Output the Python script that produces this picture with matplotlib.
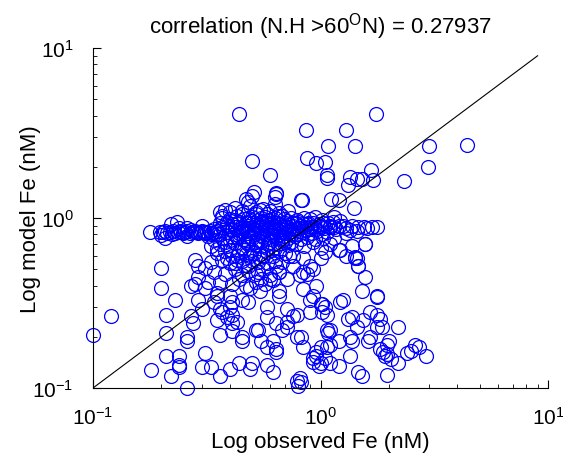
import numpy as np
import matplotlib.pyplot as plt

plt.rcParams['font.family'] = ['Liberation Sans', 'DejaVu Sans']
plt.rcParams['mathtext.default'] = 'regular'

# %% data: (observed Fe, model Fe) in nM
upper = [(0.44, 4.1), (1.75, 4.1), (0.86, 3.3), (1.29, 3.3), (1.08, 2.65), (1.42, 2.65),
         (3.0, 2.65), (4.4, 2.7), (0.5, 2.16), (0.87, 2.25), (0.96, 2.12), (1.05, 2.13),
         (2.97, 2.0), (1.07, 1.8), (1.07, 1.73), (0.6, 1.8), (1.35, 1.74), (1.45, 1.7),
         (1.67, 1.92), (1.7, 1.67), (1.32, 1.57), (1.52, 1.7), (2.33, 1.65), (0.51, 1.42),
         (0.64, 1.4), (0.63, 1.33), (0.63, 1.21), (0.47, 1.29), (0.82, 1.27), (1.11, 1.3),
         (1.2, 1.28), (1.41, 1.15), (0.54, 1.12), (0.36, 1.08), (0.37, 1.03), (0.5, 1.35),
         (0.64, 1.38), (0.83, 1.27), (0.48, 1.25)]

band_left = [(0.178, 0.83), (0.197, 0.83), (0.207, 0.84), (0.212, 0.82), (0.218, 0.83),
             (0.225, 0.84), (0.229, 0.82), (0.236, 0.83), (0.241, 0.84), (0.248, 0.82),
             (0.254, 0.83), (0.26, 0.84), (0.267, 0.82), (0.274, 0.83), (0.281, 0.84),
             (0.288, 0.82), (0.295, 0.83), (0.302, 0.84), (0.31, 0.82), (0.318, 0.83),
             (0.327, 0.84), (0.335, 0.82), (0.344, 0.83), (0.352, 0.84), (0.24, 0.87),
             (0.26, 0.87), (0.2, 0.79), (0.26, 0.78), (0.207, 0.76), (0.235, 0.95),
             (0.22, 0.92), (0.3, 0.9), (0.32, 0.78), (0.203, 0.83), (0.222, 0.81),
             (0.244, 0.83), (0.27, 0.85), (0.285, 0.83), (0.306, 0.83), (0.33, 0.81),
             (0.34, 0.86), (0.35, 0.8)]

band_right = [(1.38, 0.9), (1.46, 0.89), (1.55, 0.88), (1.6, 0.87), (1.68, 0.88), (1.77, 0.88),
              (1.25, 0.9), (1.3, 0.87), (1.2, 0.9), (1.15, 0.88), (1.1, 0.9), (1.35, 0.85),
              (1.45, 0.84), (1.57, 0.7), (1.38, 0.68), (1.2, 0.65), (1.3, 0.6), (1.45, 0.58),
              (1.42, 0.59), (1.46, 0.52), (1.22, 0.65), (1.1, 0.7), (1.0, 0.67), (1.05, 0.63),
              (0.93, 0.72), (1.15, 0.76), (1.3, 0.82), (1.15, 1.02), (1.22, 0.96)]

cluster = [(0.38, 1.12), (0.42, 1.15), (0.45, 1.1), (0.49, 1.18), (0.52, 1.08), (0.56, 1.13),
           (0.6, 1.1), (0.66, 1.07), (0.72, 1.1), (0.4, 1.08),
           (0.37, 1.0), (0.4, 0.98), (0.43, 1.03), (0.46, 0.99), (0.5, 1.02), (0.53, 0.97),
           (0.57, 1.01), (0.61, 0.98), (0.65, 1.03), (0.69, 0.99), (0.74, 1.0), (0.79, 0.97),
           (0.85, 1.0), (0.9, 0.98), (0.95, 1.01), (1.02, 0.97),
           (0.36, 0.93), (0.39, 0.95), (0.41, 0.92), (0.44, 0.95), (0.47, 0.93), (0.5, 0.94),
           (0.52, 0.92), (0.55, 0.95), (0.58, 0.93), (0.62, 0.95), (0.66, 0.92), (0.7, 0.94),
           (0.75, 0.93), (0.8, 0.95), (0.84, 0.92), (0.88, 0.94), (0.93, 0.93), (0.98, 0.92),
           (1.03, 0.94), (1.08, 0.93), (1.14, 0.95),
           (0.37, 0.88), (0.4, 0.86), (0.42, 0.89), (0.45, 0.87), (0.48, 0.9), (0.51, 0.86),
           (0.54, 0.88), (0.57, 0.9), (0.6, 0.87), (0.63, 0.89), (0.67, 0.86), (0.71, 0.88),
           (0.76, 0.9), (0.8, 0.87), (0.85, 0.89), (0.9, 0.86), (0.94, 0.88), (0.99, 0.9),
           (1.04, 0.87), (1.1, 0.88), (1.17, 0.86),
           (0.36, 0.81), (0.39, 0.83), (0.42, 0.8), (0.45, 0.84), (0.48, 0.82), (0.51, 0.8),
           (0.55, 0.83), (0.58, 0.81), (0.62, 0.84), (0.66, 0.8), (0.7, 0.82), (0.74, 0.84),
           (0.78, 0.81), (0.83, 0.83), (0.88, 0.8), (0.92, 0.82), (0.97, 0.84), (1.02, 0.81),
           (1.07, 0.83),
           (0.37, 0.76), (0.4, 0.74), (0.43, 0.77), (0.46, 0.75), (0.49, 0.78), (0.53, 0.74),
           (0.56, 0.77), (0.6, 0.75), (0.64, 0.78), (0.68, 0.74), (0.72, 0.76), (0.77, 0.78),
           (0.82, 0.75), (0.87, 0.77), (0.95, 0.75), (1.03, 0.76),
           (0.36, 0.7), (0.39, 0.68), (0.42, 0.71), (0.45, 0.67), (0.48, 0.7), (0.52, 0.72),
           (0.55, 0.68), (0.59, 0.7), (0.63, 0.67), (0.67, 0.71), (0.72, 0.69), (0.78, 0.7),
           (0.85, 0.68),
           (0.35, 0.62), (0.38, 0.64), (0.41, 0.6), (0.44, 0.63), (0.47, 0.61), (0.5, 0.65),
           (0.54, 0.61), (0.58, 0.63), (0.62, 0.6), (0.66, 0.64), (0.7, 0.62), (0.76, 0.6),
           (0.33, 0.55), (0.37, 0.57), (0.4, 0.54), (0.43, 0.57), (0.46, 0.53), (0.5, 0.56),
           (0.54, 0.58), (0.58, 0.54), (0.63, 0.56), (0.68, 0.55),
           (0.34, 0.48), (0.38, 0.47), (0.42, 0.5), (0.45, 0.46), (0.48, 0.49), (0.52, 0.47),
           (0.56, 0.5), (0.6, 0.46), (0.66, 0.48),
           (0.36, 0.42), (0.41, 0.41), (0.44, 0.44), (0.47, 0.4), (0.52, 0.42), (0.57, 0.41),
           (0.62, 0.43)]

# the solid core of the cluster, where circles sit on top of each other
core = [(0.39, 0.9), (0.41, 0.85), (0.43, 0.93), (0.44, 0.82), (0.46, 0.89), (0.47, 0.84),
        (0.49, 0.96), (0.5, 0.88), (0.51, 0.83), (0.53, 0.9), (0.54, 0.85), (0.55, 0.79),
        (0.56, 0.92), (0.57, 0.86), (0.59, 0.97), (0.6, 0.83), (0.61, 0.9), (0.62, 0.79),
        (0.64, 0.86), (0.65, 0.94), (0.67, 0.83), (0.68, 0.89), (0.69, 0.78), (0.71, 0.96),
        (0.72, 0.85), (0.73, 0.91), (0.75, 0.8), (0.77, 0.86), (0.78, 0.93), (0.81, 0.84),
        (0.82, 0.9), (0.86, 0.85), (0.87, 0.92), (0.91, 0.89), (0.96, 0.86), (1.0, 0.88),
        (0.42, 0.97), (0.45, 1.05), (0.48, 1.0), (0.52, 1.05), (0.55, 1.0), (0.58, 1.06),
        (0.63, 1.0), (0.68, 1.03), (0.44, 0.78), (0.47, 0.72), (0.5, 0.76), (0.52, 0.69),
        (0.55, 0.73), (0.58, 0.67), (0.6, 0.72), (0.61, 0.65), (0.65, 0.7), (0.67, 0.76),
        (0.7, 0.72), (0.74, 0.72), (0.4, 0.65), (0.43, 0.6), (0.46, 0.65), (0.49, 0.6),
        (0.51, 0.62), (0.53, 0.55), (0.56, 0.6), (0.39, 0.58), (0.42, 0.54), (0.45, 0.56),
        (0.48, 0.52), (0.35, 0.66), (0.38, 0.72), (0.41, 0.77), (0.34, 0.74), (0.33, 0.68)]

lower = [(0.1, 0.205), (0.12, 0.265), (0.2, 0.51), (0.2, 0.39), (0.23, 0.33), (0.21, 0.27),
         (0.21, 0.21), (0.26, 0.19), (0.26, 0.2), (0.21, 0.154), (0.18, 0.128), (0.22, 0.118),
         (0.24, 0.137), (0.26, 0.1), (0.31, 0.16), (0.3, 0.133), (0.33, 0.133), (0.36, 0.118),
         (0.4, 0.13), (0.44, 0.14), (0.49, 0.13), (0.5, 0.14), (0.58, 0.137), (0.62, 0.125),
         (0.79, 0.11), (0.81, 0.115), (0.8, 0.103), (0.82, 0.108), (0.24, 0.154),
         (0.24, 0.133), (0.27, 0.265), (0.275, 0.24), (0.28, 0.57), (0.29, 0.52), (0.29, 0.45),
         (0.28, 0.41), (0.27, 0.4), (0.29, 0.33), (0.31, 0.39), (0.32, 0.42), (0.31, 0.51),
         (0.3, 0.29), (0.34, 0.32), (0.36, 0.29), (0.37, 0.28), (0.39, 0.26), (0.41, 0.27),
         (0.43, 0.245), (0.45, 0.2), (0.41, 0.215), (0.36, 0.205), (0.35, 0.25), (0.35, 0.36),
         (0.4, 0.35), (0.41, 0.32), (0.48, 0.32), (0.49, 0.39), (0.54, 0.37), (0.55, 0.44),
         (0.58, 0.3), (0.52, 0.22), (0.55, 0.19), (0.58, 0.175), (0.64, 0.163), (0.68, 0.22),
         (0.71, 0.245), (0.76, 0.265), (0.82, 0.2), (0.9, 0.28), (0.93, 0.35), (0.96, 0.154),
         (1.0, 0.14), (0.93, 0.143), (0.87, 0.47), (0.84, 0.48), (0.71, 0.44), (0.66, 0.37),
         (0.76, 0.52), (0.9, 0.52), (1.02, 0.31), (1.07, 0.22), (1.07, 0.175),
         (0.35, 0.35), (0.4, 0.3), (0.45, 0.33), (0.53, 0.22), (0.58, 0.26), (0.64, 0.24),
         (0.71, 0.23), (0.79, 0.2), (0.84, 0.175), (0.96, 0.163), (0.62, 0.19), (0.64, 0.17),
         (0.45, 0.19), (0.41, 0.24), (0.81, 0.46), (0.84, 0.38), (0.96, 0.4), (1.01, 0.31),
         (0.9, 0.33), (0.79, 0.27), (0.71, 0.29), (0.66, 0.35), (0.6, 0.44), (0.53, 0.48),
         (0.66, 0.48), (0.93, 0.5), (1.0, 0.58), (0.84, 0.58), (0.73, 0.6), (0.64, 0.52)]

lower_right = [(1.57, 0.7), (1.42, 0.58), (1.46, 0.52), (1.57, 0.45), (1.52, 0.37), (1.77, 0.35),
               (1.78, 0.345), (1.22, 0.32), (1.25, 0.33), (1.05, 0.3), (1.02, 0.28), (1.07, 0.27),
               (1.32, 0.255), (1.38, 0.26), (1.65, 0.28), (1.77, 0.27), (1.83, 0.255), (1.54, 0.25),
               (1.45, 0.23), (1.77, 0.23), (1.86, 0.23), (2.2, 0.23), (1.1, 0.22), (1.08, 0.21),
               (1.2, 0.19), (1.1, 0.18), (1.0, 0.175), (1.35, 0.2), (1.38, 0.19), (1.62, 0.19),
               (1.65, 0.2), (1.83, 0.17), (1.97, 0.18), (2.0, 0.19), (1.88, 0.163), (1.92, 0.154),
               (1.97, 0.158), (2.2, 0.14), (2.05, 0.148), (2.4, 0.16), (2.5, 0.165), (2.6, 0.18),
               (2.7, 0.175), (2.9, 0.154), (1.35, 0.154), (1.2, 0.135), (1.46, 0.125),
               (1.52, 0.117), (1.97, 0.12), (0.98, 0.135), (0.93, 0.15), (1.05, 0.15), (1.1, 0.14)]

diag_x = [0.1, 9.0]

groups = [upper, band_left, band_right, cluster, core, lower, lower_right]
obs = np.array([p[0] for g in groups for p in g])
mod = np.array([p[1] for g in groups for p in g])

# %% plot
fig = plt.figure(figsize=(5.63, 4.6), dpi=100)
ax = fig.add_axes([93/563, 71/460, 455/563, 340/460])

ax.plot(obs, mod, 'o', mfc='none', mec='b', mew=0.9, ms=10, clip_on=False)
ax.plot(diag_x, diag_x, 'k-', lw=0.8)

ax.set_xscale('log')
ax.set_yscale('log')
ax.set_xlim(0.1, 10)
ax.set_ylim(0.1, 10)

ax.spines['top'].set_visible(False)
ax.spines['right'].set_visible(False)
ax.tick_params(which='both', direction='in', top=False, right=False, labelsize=15)
ax.tick_params(which='major', length=6)
ax.tick_params(which='minor', length=3)
ax.tick_params(axis='x', which='major', pad=13)
ax.tick_params(axis='y', which='major', pad=14)

ax.set_title('correlation (N.H >60$^{O}$N) = 0.27937', fontsize=16, pad=11)
ax.set_xlabel('Log observed Fe (nM)', fontsize=16, labelpad=2)
ax.set_ylabel('Log model Fe (nM)', fontsize=16, labelpad=-6)

fig.savefig('out.png', dpi=100)
